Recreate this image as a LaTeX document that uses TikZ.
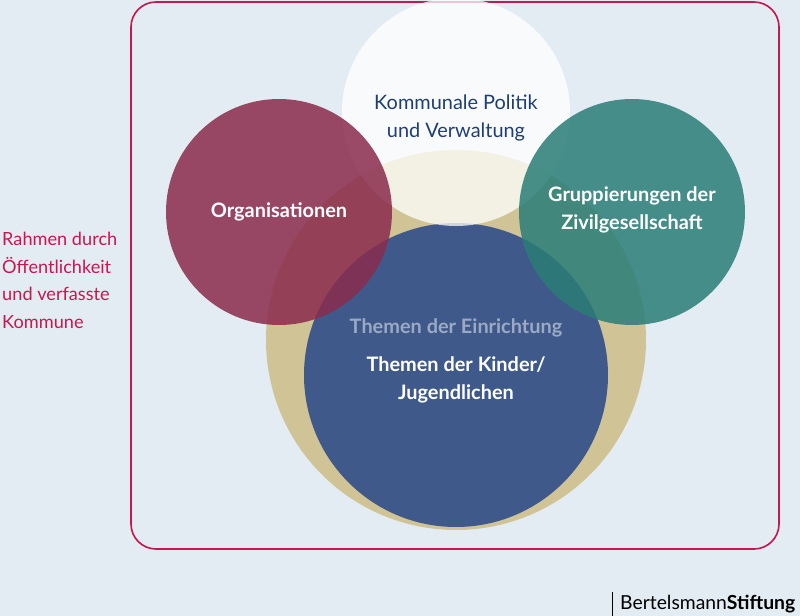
\documentclass[tikz,border=0pt]{standalone}
\usepackage{fontspec}
\setmainfont{Lato}
\definecolor{bgblue}{HTML}{E4ECF3}
\definecolor{frame}{HTML}{C8174F}
\definecolor{politik}{HTML}{1F3F74}
\definecolor{beige}{HTML}{CDBE86}
\definecolor{kinder}{HTML}{3F5A8A}
\definecolor{orga}{HTML}{8A2B4C}
\definecolor{zivil}{HTML}{2A7D77}
\definecolor{einricht}{HTML}{9CA9C4}
\tikzset{
  circ/.style={circle,inner sep=0pt},
  lbl/.style={font=\fontsize{17}{24}\selectfont\bfseries,text=white,align=center}
}
\begin{document}
\begin{tikzpicture}[x=0.03cm,y=-0.03cm]
% Background
\fill[bgblue] (0,0) rectangle (800,616);
\useasboundingbox (0,0) rectangle (800,616);
% Frame
\draw[frame,line width=1.4pt,rounded corners=0.75cm] (131,2) rectangle (779,549);
\node[anchor=north west,text=frame,align=left,font=\fontsize{15.5}{23.5}\selectfont,inner sep=0pt] (rahmen) at (2,232)
  {Rahmen durch\\Öffentlichkeit\\und verfasste\\Kommune};

% Circles
\fill[beige,opacity=0.85] (456,340) circle (190);
\fill[kinder] (456,375) circle (152);
\fill[white,opacity=0.75] (456,112) circle (114);
\fill[orga,opacity=0.85] (279,212) circle (113);
\fill[zivil,opacity=0.85] (632,212) circle (113);

% Labels
\node[lbl,text=politik,font=\fontsize{17}{24}\selectfont\mdseries] (politik) at (456,118) {Kommunale Politik\\und Verwaltung};
\node[lbl] (orgaT) at (279,212) {Organisationen};
\node[lbl] (zivilT) at (632,210) {Gruppierungen der\\Zivilgesellschaft};
\node[lbl,text=einricht] (einrichtung) at (456,328) {Themen der Einrichtung};
\node[lbl] (kinderT) at (456,380) {Themen der Kinder/\\Jugendlichen};

% Logo
\draw[black,line width=0.6pt] (612,592) -- (612,616);
\node[anchor=west,inner sep=0pt,font=\fontsize{16.5}{18}\selectfont] (logo) at (620,604)
  {Bertelsmann\textbf{Stiftung}};
\end{tikzpicture}
\end{document}
